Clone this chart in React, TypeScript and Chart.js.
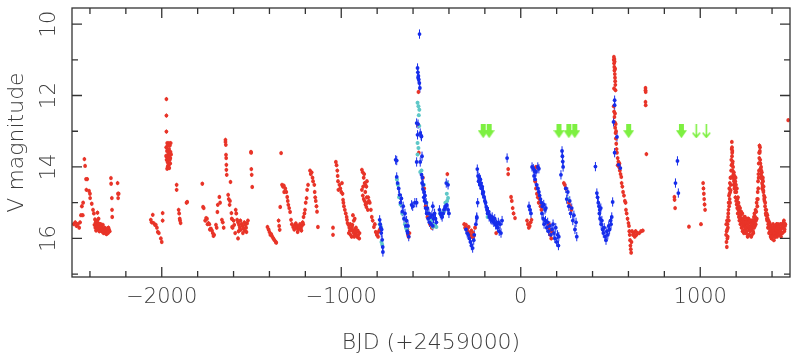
import React, { useEffect, useRef } from "react";
import { Chart, registerables } from "chart.js";

Chart.register(...registerables);

// ---- axis definitions ----
const X_MIN = -2500;
const X_MAX = 1500;
const Y_MIN = 9.55;
const Y_MAX = 17.08;
const xMajorTicks = [-2000, -1000, 0, 1000];
const xMinorTicks = [-2400, -2200, -1800, -1600, -1400, -1200, -800, -600, -400, -200, 200, 400, 600, 800, 1200, 1400];
const yMajorTicks = [10, 12, 14, 16];
const yMinorTicks = [11, 13, 15, 17];
const xTitle = "BJD (+2459000)";
const yTitle = "V magnitude";

// ---- photometry (BJD-2459000, V mag) ----
const redPoints: [number, number][] = [
  // season 1
  [-2490, 15.6], [-2482, 15.55], [-2475, 15.65], [-2468, 15.6], [-2460, 15.7], [-2455, 15.55], [-2450, 15.35], [-2440, 15.35],
  [-2445, 15.1], [-2438, 15.0], [-2431, 13.78], [-2427, 13.97], [-2422, 14.34], [-2415, 14.34], [-2420, 14.64], [-2405, 14.67],
  [-2400, 14.75], [-2399, 14.87], [-2390, 15.03], [-2383, 15.2], [-2378, 15.3], [-2372, 15.47], [-2368, 15.55], [-2362, 15.6],
  [-2358, 15.28], [-2355, 15.7], [-2350, 15.65], [-2345, 15.75], [-2340, 15.6], [-2335, 15.8], [-2330, 15.72], [-2325, 15.85],
  [-2320, 15.78], [-2315, 15.85], [-2310, 15.83], [-2305, 15.8], [-2300, 15.85], [-2297, 15.7], [-2294, 15.75], [-2290, 15.8],
  [-2283, 14.31], [-2282, 14.47], [-2278, 14.87], [-2277, 15.2], [-2276, 15.4], [-2246, 14.45], [-2244, 14.75], [-2240, 14.75], [-2243, 14.87],
  // season 2
  [-2061, 15.48], [-2056, 15.55], [-2050, 15.34], [-2045, 15.57], [-2038, 15.62], [-2033, 15.62], [-2027, 15.7], [-2022, 15.82],
  [-2016, 15.85], [-2005, 16.0], [-2000, 16.1], [-1995, 15.29], [-1995, 15.5],
  [-1974, 12.1], [-1974, 12.56], [-1974, 13.01], [-1970, 13.33], [-1960, 13.33], [-1950, 13.33], [-1976, 13.69], [-1972, 13.72],
  [-1966, 13.52], [-1960, 13.6], [-1952, 13.75], [-1968, 13.86], [-1962, 13.95], [-1958, 14.03], [-1965, 14.0], [-1955, 13.8],
  [-1948, 13.65], [-1963, 13.9], [-1917, 14.5], [-1917, 14.64], [-1906, 15.2], [-1903, 15.3], [-1900, 15.45], [-1895, 15.57],
  [-1898, 15.5], [-1862, 15.0], [-1858, 14.98],
  // season 3
  [-1774, 14.47], [-1770, 15.12], [-1766, 15.15], [-1753, 15.43], [-1748, 15.45], [-1740, 15.57], [-1735, 15.6], [-1726, 15.73],
  [-1720, 15.78], [-1712, 15.93], [-1708, 15.9], [-1698, 15.62], [-1694, 15.7], [-1690, 15.26], [-1688, 15.06], [-1679, 14.84],
  [-1675, 15.0], [-1665, 15.48], [-1660, 15.55], [-1655, 15.7],
  [-1645, 13.24], [-1645, 13.3], [-1643, 13.38], [-1642, 13.66], [-1641, 13.75], [-1640, 13.94], [-1640, 14.08], [-1638, 14.22],
  [-1617, 14.42], [-1630, 14.78], [-1627, 14.9], [-1622, 15.06], [-1620, 14.95], [-1612, 15.29], [-1610, 15.45], [-1608, 15.68],
  [-1600, 15.5], [-1591, 15.85], [-1588, 15.2], [-1585, 15.3], [-1580, 15.48], [-1575, 15.55], [-1570, 15.62], [-1565, 15.7],
  [-1560, 15.76], [-1555, 15.6], [-1550, 15.65], [-1545, 15.72], [-1540, 15.55], [-1535, 15.62], [-1530, 15.7], [-1525, 15.58],
  [-1520, 15.5], [-1575, 16.0], [-1503, 13.58], [-1502, 13.6], [-1501, 14.06], [-1499, 14.22], [-1496, 14.56],
  // season 4
  [-1411, 15.68], [-1405, 15.75], [-1400, 15.82], [-1395, 15.9], [-1390, 15.88], [-1384, 15.95], [-1378, 16.0], [-1372, 16.05],
  [-1365, 16.1], [-1362, 16.12], [-1349, 15.5], [-1346, 15.65], [-1343, 15.76], [-1340, 15.12], [-1335, 13.61], [-1330, 14.5],
  [-1325, 14.55], [-1320, 14.52], [-1318, 14.7], [-1312, 14.6], [-1306, 14.7], [-1301, 14.84], [-1298, 14.95], [-1295, 15.06],
  [-1290, 15.15], [-1285, 15.26], [-1280, 15.48], [-1275, 15.6], [-1268, 15.68], [-1257, 15.62], [-1250, 15.7], [-1245, 15.65],
  [-1240, 15.76], [-1235, 15.7], [-1230, 15.6], [-1225, 15.72], [-1220, 15.65], [-1215, 15.55], [-1210, 15.4], [-1205, 15.3],
  [-1202, 15.2], [-1198, 15.0], [-1193, 14.87], [-1190, 14.64], [-1185, 14.5], [-1174, 14.1], [-1170, 14.2], [-1165, 14.15],
  [-1160, 14.3], [-1157, 14.4], [-1150, 14.5], [-1148, 14.7], [-1145, 14.85], [-1142, 14.95], [-1138, 15.1], [-1135, 15.25], [-1130, 15.68],
  // season 5
  [-1046, 15.7], [-1046, 15.9], [-1030, 13.86], [-1026, 13.95], [-1022, 14.1], [-1020, 14.25], [-1018, 14.4], [-1016, 14.64],
  [-1010, 14.5], [-1005, 14.6], [-1000, 14.7], [-996, 14.45], [-993, 14.75], [-990, 14.92], [-988, 15.0], [-985, 15.1],
  [-980, 15.2], [-975, 15.3], [-970, 15.4], [-968, 15.48], [-965, 15.57], [-960, 15.62], [-955, 15.7], [-950, 15.6],
  [-945, 15.75], [-940, 15.68], [-935, 15.8], [-930, 15.85], [-925, 15.75], [-920, 15.9], [-915, 15.82], [-910, 15.96],
  [-905, 15.9], [-900, 16.0], [-935, 15.35], [-930, 15.5], [-925, 15.45],
  [-885, 14.08], [-880, 14.15], [-875, 14.3], [-870, 14.45], [-865, 14.5], [-860, 14.55], [-857, 14.4], [-885, 14.64],
  [-880, 14.8], [-875, 14.9], [-870, 14.95], [-865, 15.05], [-860, 15.12], [-855, 15.0], [-850, 14.85], [-841, 15.0],
  [-835, 15.2], [-830, 15.4], [-825, 15.5], [-818, 15.68], [-813, 15.6], [-808, 15.82], [-802, 15.9],
  [-800, 15.85], [-795, 15.95], [-790, 15.8], [-785, 15.75],
  // season 6
  [-640, 15.62], [-632, 15.75], [-628, 15.9], [-625, 15.95], [-620, 15.85],
  [-570, 11.9], [-570, 12.83], [-568, 13.6], [-545, 14.3], [-538, 14.6], [-530, 15.1], [-520, 15.4], [-505, 15.6], [-495, 15.7],
  [-480, 15.65], [-409, 14.2],
  // season 7
  [-315, 15.6], [-310, 15.7], [-305, 15.62], [-300, 15.75], [-295, 15.8], [-290, 15.68], [-285, 15.85], [-280, 15.9],
  [-275, 15.78], [-270, 15.96], [-265, 15.85], [-260, 15.92], [-255, 15.7], [-137, 15.85], [-70, 14.06], [-70, 14.2],
  [-54, 14.84], [-50, 14.95], [-45, 15.15], [-40, 15.3], [-32, 15.43],
  // season 8
  [35, 15.5], [40, 15.6], [45, 15.7], [50, 15.65], [55, 15.55], [60, 15.48], [85, 14.0], [95, 14.02], [80, 14.4],
  [85, 14.6], [90, 14.75], [95, 14.85], [100, 15.0], [105, 14.9], [110, 15.1], [115, 15.2], [118, 15.1], [157, 15.6],
  [160, 15.75], [165, 15.9], [170, 16.0], [174, 15.8], [240, 14.45], [245, 14.5], [251, 14.6], [268, 15.0], [275, 15.1], [282, 15.2],
  // season 9
  [518, 11.0], [519, 10.92], [520, 11.1], [521, 11.2], [522, 11.3], [523, 11.05], [524, 11.4], [525, 11.5], [526, 11.6],
  [527, 11.7], [528, 11.85], [520, 11.8], [522, 10.98], [526, 11.25],
  [518, 12.3], [520, 12.45], [522, 12.6], [524, 12.75], [526, 12.9], [528, 13.05], [530, 13.2], [532, 13.35], [534, 13.5],
  [525, 12.5], [529, 12.8], [531, 13.0], [536, 13.6], [540, 13.75], [544, 13.85], [548, 14.0], [552, 14.1], [556, 14.2],
  [560, 14.28], [540, 13.95], [550, 13.9], [562, 14.45], [566, 14.55], [570, 14.7], [575, 14.8], [580, 14.95], [584, 15.0],
  [586, 15.2], [590, 15.3], [595, 15.45], [600, 15.57], [603, 15.65], [605, 15.8], [607, 15.9], [609, 16.05], [611, 16.2],
  [613, 16.3], [615, 16.4], [617, 16.1], [620, 15.8], [625, 15.9], [630, 15.85], [635, 15.95], [640, 15.8], [645, 15.9],
  [650, 15.85], [660, 15.85], [670, 15.8], [680, 15.78],
  [695, 11.79], [695, 11.85], [696, 11.9], [695, 12.18], [696, 12.27], [700, 13.64],
  // season 10
  [856, 14.84], [857, 14.92], [860, 15.15], [937, 15.67], [1004, 15.6], [1016, 14.45], [1018, 14.6], [1020, 14.75],
  [1022, 14.9], [1024, 15.05], [1027, 15.2],
  // season 11
  [1144, 15.9], [1146, 16.1], [1148, 16.24], [1150, 15.75], [1152, 15.6], [1153, 15.95], [1155, 15.4], [1157, 15.2],
  [1158, 15.0], [1160, 14.8], [1162, 14.6], [1164, 14.9], [1165, 14.45], [1167, 14.7], [1168, 14.3], [1170, 14.5],
  [1172, 14.1], [1173, 13.8], [1175, 13.5], [1176, 13.3], [1178, 13.6], [1179, 13.9], [1180, 14.1], [1182, 14.25],
  [1184, 14.3], [1186, 14.5], [1188, 14.4], [1190, 14.6], [1192, 14.5], [1194, 14.7], [1196, 14.85], [1198, 14.6],
  [1200, 14.95], [1203, 15.05], [1206, 15.15], [1209, 15.3], [1212, 15.2], [1215, 15.4], [1218, 15.5], [1221, 15.35],
  [1224, 15.6], [1227, 15.45], [1230, 15.7], [1233, 15.55], [1236, 15.8], [1239, 15.5], [1242, 15.65], [1245, 15.4],
  [1248, 15.75], [1251, 15.6], [1254, 15.85], [1257, 15.5], [1260, 15.7], [1263, 15.6], [1266, 15.9], [1269, 15.45],
  [1272, 15.75], [1275, 15.55], [1278, 15.8], [1281, 15.65], [1284, 15.95], [1287, 15.5], [1290, 15.7], [1293, 15.6],
  [1296, 15.85], [1299, 15.4], [1302, 15.3], [1305, 15.65], [1308, 15.2], [1311, 15.5], [1314, 15.0], [1317, 14.9],
  [1320, 14.7], [1322, 14.4], [1324, 14.2], [1326, 13.9], [1328, 13.6], [1330, 13.4], [1332, 13.55], [1334, 13.8],
  [1336, 14.05], [1338, 14.2], [1340, 14.1], [1342, 14.3], [1344, 14.45], [1346, 14.35], [1348, 14.55], [1350, 14.4],
  [1352, 14.7], [1355, 14.8], [1358, 14.95], [1361, 15.1], [1364, 15.2], [1367, 15.35], [1370, 15.3], [1373, 15.5],
  [1376, 15.45], [1379, 15.6], [1382, 15.7], [1385, 15.55], [1388, 15.8], [1391, 15.65], [1394, 15.9], [1397, 16.0],
  [1400, 15.75], [1403, 15.85], [1406, 15.6], [1409, 15.9], [1412, 15.7], [1415, 15.95], [1418, 15.8], [1421, 15.65],
  [1424, 15.9], [1427, 15.75], [1430, 15.85], [1433, 15.6], [1436, 15.8], [1440, 15.7], [1444, 15.9], [1448, 15.75],
  [1452, 15.85], [1456, 15.6], [1460, 15.7], [1464, 15.55], [1468, 15.8], [1472, 15.65], [1490, 12.69],
];

// extra red measurements in the densest clumps
const redDense: [number, number][] = [
  [-2375, 15.62], [-2370, 15.7], [-2366, 15.78], [-2362, 15.68], [-2357, 15.74], [-2352, 15.58], [-2348, 15.8], [-2343, 15.7],
  [-2338, 15.66], [-2333, 15.75], [-2328, 15.62], [-2323, 15.8], [-2318, 15.7], [-2313, 15.76], [-2308, 15.88], [-2303, 15.72],
  [-2298, 15.82], [-2360, 15.5], [-2352, 15.45], [-2346, 15.6],
  [-1975, 13.45], [-1971, 13.55], [-1967, 13.4], [-1963, 13.62], [-1959, 13.5], [-1955, 13.4], [-1951, 13.58], [-1973, 13.8],
  [-1969, 13.7], [-1961, 13.78], [-1957, 13.68], [-1953, 13.9], [-1970, 14.05], [-1966, 13.98], [-1960, 14.02],
  [-1572, 15.8], [-1562, 15.5], [-1548, 15.85], [-1538, 15.78], [-1528, 15.82], [-1605, 15.7], [-1596, 15.62],
  [-1758, 15.5], [-1745, 15.6], [-1732, 15.75], [-1716, 15.85],
  [-1262, 15.75], [-1253, 15.58], [-1243, 15.82], [-1232, 15.66], [-1222, 15.78], [-1212, 15.6],
  [-958, 15.85], [-948, 15.9], [-938, 15.62], [-928, 15.95], [-918, 15.7], [-908, 15.78], [-898, 15.85], [-942, 15.95], [-952, 15.78],
  [-878, 14.55], [-872, 14.2], [-866, 14.7], [-858, 14.85], [-852, 15.2], [-846, 14.95],
  [1145, 15.6], [1147, 15.8], [1149, 15.5], [1151, 16.0], [1154, 15.7], [1156, 15.3], [1159, 15.5], [1161, 15.1], [1163, 14.75],
  [1166, 15.0], [1169, 14.65], [1171, 14.3], [1174, 13.95], [1177, 13.45], [1177, 13.7], [1179, 13.55], [1181, 13.85], [1183, 14.0],
  [1185, 14.2], [1187, 14.15], [1189, 14.35], [1191, 14.25], [1193, 14.45], [1195, 14.4], [1197, 14.3], [1199, 14.5], [1201, 14.7],
  [1204, 14.6], [1207, 14.9], [1210, 14.85], [1213, 15.0], [1216, 15.1], [1219, 15.25], [1222, 15.15], [1225, 15.35], [1228, 15.25],
  [1231, 15.5], [1234, 15.3], [1237, 15.6], [1240, 15.45], [1243, 15.85], [1246, 15.55], [1249, 15.4], [1252, 15.7], [1255, 15.55],
  [1258, 15.8], [1261, 15.45], [1264, 15.95], [1267, 15.65], [1270, 15.55], [1273, 15.9], [1276, 15.7], [1279, 15.5], [1282, 15.75],
  [1285, 15.6], [1288, 15.9], [1291, 15.5], [1294, 15.8], [1297, 15.55], [1300, 15.7], [1303, 15.5], [1306, 15.4], [1309, 15.6],
  [1312, 15.25], [1315, 15.45], [1318, 15.1], [1321, 14.9], [1323, 14.6], [1325, 14.3], [1327, 14.1], [1329, 13.75], [1331, 13.6],
  [1333, 13.45], [1335, 13.9], [1337, 14.3], [1339, 14.0], [1341, 14.25], [1343, 14.15], [1345, 14.6], [1347, 14.5], [1349, 14.3],
  [1351, 14.65], [1353, 14.55], [1356, 14.9], [1359, 14.85], [1362, 15.0], [1365, 15.3], [1368, 15.2], [1371, 15.45], [1374, 15.35],
  [1377, 15.7], [1380, 15.5], [1383, 15.85], [1386, 15.65], [1389, 15.6], [1392, 15.95], [1395, 15.75], [1398, 15.8], [1401, 15.95],
  [1404, 15.7], [1407, 15.8], [1410, 16.05], [1413, 15.85], [1416, 15.7], [1419, 15.95], [1422, 15.75], [1425, 15.6], [1428, 15.95],
  [1431, 15.7], [1434, 15.9], [1438, 15.65], [1442, 15.8], [1446, 15.6], [1450, 15.95], [1454, 15.7], [1458, 15.85], [1462, 15.65],
  [1466, 15.5], [1470, 15.75], [1474, 15.6],
];

const bluePoints: [number, number][] = [
  [-786, 15.48], [-783, 15.6], [-780, 15.7], [-777, 15.85], [-775, 15.75], [-772, 16.04], [-769, 16.24], [-768, 16.38],
  [-697, 13.8], [-691, 13.82], [-691, 14.28], [-686, 14.45], [-680, 14.6], [-675, 14.78], [-670, 15.0], [-665, 14.88],
  [-660, 15.25], [-655, 15.1], [-650, 15.45], [-645, 15.3], [-640, 15.65], [-636, 15.5], [-632, 15.8], [-628, 15.65],
  [-624, 15.95], [-630, 15.85], [-608, 15.06], [-602, 15.1], [-590, 15.0], [-580, 15.0],
  [-564, 10.28], [-575, 11.23], [-573, 11.35], [-570, 11.45], [-568, 11.55], [-565, 11.65], [-562, 11.79], [-572, 11.5],
  [-580, 12.77], [-572, 12.8], [-575, 13.1], [-560, 13.05], [-553, 13.15], [-555, 13.12], [-550, 13.7], [-580, 13.86],
  [-560, 13.86], [-553, 14.22], [-550, 14.45], [-548, 14.3], [-545, 14.62], [-543, 14.5], [-540, 14.85], [-538, 14.7],
  [-536, 14.95], [-533, 14.8], [-530, 15.15], [-527, 15.0], [-524, 15.3], [-520, 15.15], [-516, 15.45], [-512, 15.3],
  [-508, 15.55], [-504, 15.4], [-500, 15.6], [-495, 15.35], [-490, 15.65], [-486, 15.45], [-490, 15.1], [-480, 15.3],
  [-475, 15.45], [-470, 15.55], [-415, 14.45], [-405, 14.5], [-453, 15.2], [-448, 15.3], [-443, 15.35], [-438, 15.4],
  [-432, 15.3], [-428, 15.2], [-422, 15.15], [-418, 15.1], [-412, 15.06], [-405, 15.2], [-400, 15.3],
  [-305, 15.75], [-298, 15.85], [-292, 15.9], [-286, 16.0], [-280, 16.1], [-275, 16.2], [-268, 16.27], [-262, 16.05],
  [-259, 15.9], [-250, 15.6], [-245, 15.4], [-242, 14.06], [-238, 14.25], [-235, 14.4], [-231, 14.3], [-228, 14.5],
  [-225, 14.35], [-222, 14.45], [-218, 14.6], [-215, 14.55], [-212, 14.75], [-208, 14.7], [-204, 14.84], [-200, 14.95],
  [-196, 15.0], [-192, 15.12], [-188, 15.2], [-185, 15.3], [-180, 15.25], [-176, 15.4], [-172, 15.35], [-168, 15.45],
  [-164, 15.48], [-159, 15.4], [-155, 15.5], [-150, 15.55], [-145, 15.45], [-140, 15.62], [-135, 15.6], [-130, 15.7],
  [-125, 15.55], [-120, 15.8], [-115, 15.6], [-110, 15.85], [-104, 15.5], [-76, 13.75], [-240, 15.0], [-245, 15.43],
  [46, 15.1], [52, 15.2], [57, 15.3], [63, 14.0], [70, 14.05], [78, 14.1], [85, 14.14], [95, 14.0], [101, 14.05],
  [74, 14.25], [80, 14.35], [88, 14.5], [95, 14.6], [101, 14.7], [105, 14.8], [110, 14.9], [115, 15.0], [120, 15.1],
  [128, 15.05], [135, 15.2], [140, 15.15], [118, 15.3], [125, 15.45], [130, 15.6], [138, 15.5], [145, 15.7], [150, 15.55],
  [155, 15.8], [162, 15.65], [168, 15.9], [174, 15.75], [180, 15.6], [185, 15.85], [190, 16.0], [195, 15.7], [200, 16.1],
  [205, 15.9], [210, 16.2], [212, 15.95], [230, 13.55], [232, 13.7], [234, 13.85], [236, 14.0], [224, 14.22], [251, 14.6],
  [256, 14.9], [262, 14.7], [268, 15.1], [273, 14.95], [278, 15.3], [284, 15.15], [290, 15.5], [296, 15.35],
  [302, 15.75], [308, 15.55], [312, 15.95],
  [416, 13.99], [424, 14.73], [428, 14.85], [432, 15.0], [436, 15.1], [440, 15.2], [446, 15.15], [438, 15.3], [442, 15.45],
  [448, 15.6], [452, 15.5], [456, 15.75], [460, 15.85], [465, 15.7], [470, 15.95], [475, 16.05], [480, 15.8], [485, 15.9],
  [490, 15.65], [495, 15.75], [500, 15.5], [503, 15.6], [507, 15.4], [512, 14.98], [523, 12.13], [523, 12.27],
  [517, 12.74], [536, 13.16], [523, 13.6], [545, 13.94], [555, 14.03],
  [873, 13.83], [862, 14.45], [878, 14.73],
];

const cyanPoints: [number, number][] = [
  [-786, 15.6], [-780, 15.68], [-776, 16.1], [-772, 16.18],
  [-690, 14.35], [-685, 14.5], [-678, 14.85], [-670, 15.05], [-660, 15.3], [-650, 15.45], [-645, 15.6], [-640, 15.7], [-635, 15.75],
  [-575, 12.2], [-570, 12.3], [-565, 12.4], [-568, 12.55], [-565, 12.85], [-575, 13.33], [-570, 13.47], [-575, 13.65],
  [-560, 14.14], [-553, 14.1], [-540, 14.5], [-525, 15.0], [-515, 15.3], [-500, 15.5], [-490, 15.68], [-480, 15.62],
  [-470, 15.68], [-410, 14.45], [-412, 14.75], [-405, 14.87], [-450, 15.3], [-440, 15.35], [-430, 15.25], [-420, 15.0], [-410, 14.95],
  [-185, 15.4], [262, 14.9],
];

// upper-limit / event markers (BJD-2459000)
const thickArrowX = [-209, -176, 213, 268, 301, 601, 895];
const thinArrowX = [978, 1034];
const arrowMag = 13.0;

const RED = "rgb(232,52,40)";
const BLUE = "rgb(22,45,235)";
const CYAN = "rgb(95,200,200)";
const GREEN = "rgb(125,240,65)";
const TEXT = "#3c3c3c";
const FONT = '200 21px "DejaVu Sans", sans-serif';

function makeThickArrow(): HTMLCanvasElement {
  const c = document.createElement("canvas");
  c.width = 11;
  c.height = 14;
  const g = c.getContext("2d")!;
  g.fillStyle = GREEN;
  g.fillRect(3, 0, 5, 7);
  g.beginPath();
  g.moveTo(0, 6);
  g.lineTo(11, 6);
  g.lineTo(5.5, 14);
  g.closePath();
  g.fill();
  return c;
}

function makeThinArrow(): HTMLCanvasElement {
  const c = document.createElement("canvas");
  c.width = 9;
  c.height = 14;
  const g = c.getContext("2d")!;
  g.strokeStyle = GREEN;
  g.lineWidth = 1.6;
  g.beginPath();
  g.moveTo(4.5, 0);
  g.lineTo(4.5, 13);
  g.moveTo(0.8, 8.5);
  g.lineTo(4.5, 13);
  g.lineTo(8.2, 8.5);
  g.stroke();
  return c;
}

const errorBarPlugin = {
  id: "errorBars",
  beforeDatasetsDraw(chart: any) {
    const ctx = chart.ctx;
    const ys = chart.scales.y;
    const area = chart.chartArea;
    ctx.save();
    ctx.beginPath();
    ctx.rect(area.left, area.top, area.right - area.left, area.bottom - area.top);
    ctx.clip();
    chart.data.datasets.forEach((ds: any, i: number) => {
      if (!ds.errBar) return;
      const meta = chart.getDatasetMeta(i);
      ctx.strokeStyle = ds.backgroundColor;
      ctx.lineWidth = 1;
      ctx.beginPath();
      meta.data.forEach((pt: any, j: number) => {
        const v = ds.data[j].y;
        const y1 = ys.getPixelForValue(v - ds.errBar);
        const y2 = ys.getPixelForValue(v + ds.errBar);
        ctx.moveTo(pt.x, y1);
        ctx.lineTo(pt.x, y2);
      });
      ctx.stroke();
    });
    ctx.restore();
  },
};

const framePlugin = {
  id: "frameAxes",
  afterDraw(chart: any) {
    const ctx = chart.ctx;
    const { left, right, top, bottom } = chart.chartArea;
    const xs = chart.scales.x;
    const ys = chart.scales.y;
    ctx.save();
    ctx.strokeStyle = "#333";
    ctx.lineWidth = 1.3;
    ctx.strokeRect(left, top, right - left, bottom - top);
    ctx.beginPath();
    const xt = (v: number, len: number) => {
      const px = xs.getPixelForValue(v);
      ctx.moveTo(px, bottom);
      ctx.lineTo(px, bottom - len);
      ctx.moveTo(px, top);
      ctx.lineTo(px, top + len);
    };
    const yt = (v: number, len: number) => {
      const py = ys.getPixelForValue(v);
      ctx.moveTo(left, py);
      ctx.lineTo(left + len, py);
      ctx.moveTo(right, py);
      ctx.lineTo(right - len, py);
    };
    xMajorTicks.forEach((v) => xt(v, 10));
    xMinorTicks.forEach((v) => xt(v, 6));
    yMajorTicks.forEach((v) => yt(v, 10));
    yMinorTicks.forEach((v) => yt(v, 6));
    ctx.stroke();

    ctx.fillStyle = TEXT;
    ctx.font = FONT;
    ctx.textAlign = "center";
    ctx.textBaseline = "middle";
    xMajorTicks.forEach((v) => {
      const s = v < 0 ? "\u2212" + Math.abs(v) : String(v);
      ctx.fillText(s, xs.getPixelForValue(v), bottom + 21);
    });
    yMajorTicks.forEach((v) => {
      ctx.save();
      ctx.translate(left - 22, ys.getPixelForValue(v));
      ctx.rotate(-Math.PI / 2);
      ctx.fillText(String(v), 0, 0);
      ctx.restore();
    });
    ctx.font = '200 22px "DejaVu Sans", sans-serif';
    ctx.fillText(xTitle, (left + right) / 2, bottom + 66);
    ctx.save();
    ctx.translate(17, (top + bottom) / 2);
    ctx.rotate(-Math.PI / 2);
    ctx.fillText(yTitle, 0, 0);
    ctx.restore();
    ctx.restore();
  },
};

export default function App() {
  const ref = useRef<HTMLCanvasElement | null>(null);
  useEffect(() => {
    document.body.style.margin = "0";
    if (!ref.current) return;
    const toXY = (arr: [number, number][]) => arr.map(([x, y]) => ({ x, y }));
    const thick = makeThickArrow();
    const thin = makeThinArrow();
    const chart = new Chart(ref.current, {
      type: "scatter",
      data: {
        datasets: [
          {
            label: "thick",
            data: thickArrowX.map((x) => ({ x, y: arrowMag })),
            pointStyle: thick as any,
            pointRadius: 6,
            backgroundColor: GREEN,
          },
          {
            label: "thin",
            data: thinArrowX.map((x) => ({ x, y: arrowMag })),
            pointStyle: thin as any,
            pointRadius: 6,
            backgroundColor: GREEN,
          },
          {
            label: "blue",
            data: toXY(bluePoints),
            backgroundColor: BLUE,
            borderWidth: 0,
            pointRadius: 1.9,
            errBar: 0.13,
          } as any,
          {
            label: "cyan",
            data: toXY(cyanPoints),
            backgroundColor: CYAN,
            borderWidth: 0,
            pointRadius: 2,
            errBar: 0.05,
          } as any,
          {
            label: "red",
            data: toXY(redPoints.concat(redDense)),
            backgroundColor: RED,
            borderWidth: 0,
            pointRadius: 1.9,
            errBar: 0.06,
          } as any,
        ],
      },
      options: {
        animation: false,
        responsive: true,
        maintainAspectRatio: false,
        layout: { padding: { left: 72, right: 10, top: 8, bottom: 83 } },
        plugins: { legend: { display: false }, tooltip: { enabled: false } },
        scales: {
          x: { type: "linear", min: X_MIN, max: X_MAX, display: false },
          y: { type: "linear", min: Y_MIN, max: Y_MAX, reverse: true, display: false },
        },
      },
      plugins: [errorBarPlugin, framePlugin],
    });
    return () => chart.destroy();
  }, []);
  return (
    <div style={{ position: "fixed", left: 0, top: 0, width: 800, height: 360, background: "#fff" }}>
      <canvas ref={ref} />
    </div>
  );
}
